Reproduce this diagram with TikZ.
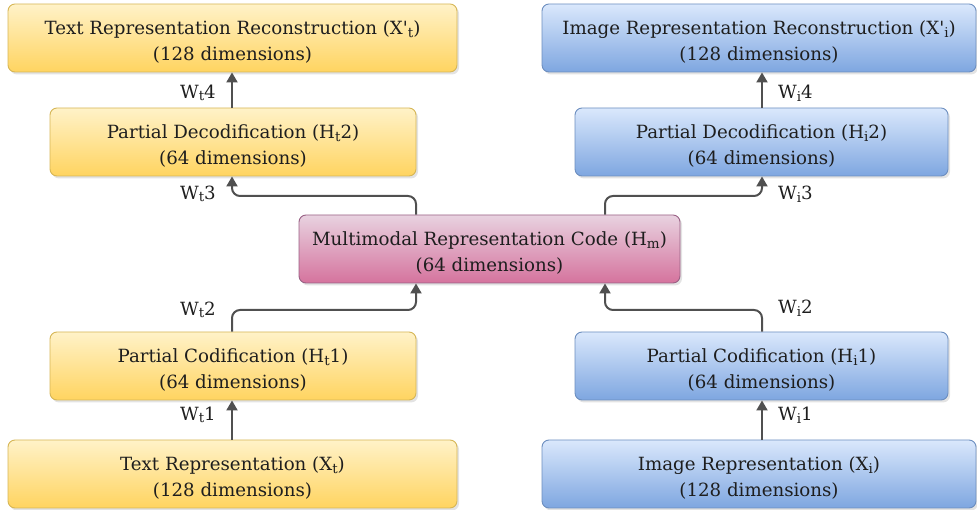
\documentclass[tikz,border=0pt]{standalone}
\usepackage{fontspec}
\setmainfont{DejaVu Serif}
\usetikzlibrary{arrows.meta,shadows,calc}

\definecolor{ytop}{RGB}{255,242,200}
\definecolor{ybot}{RGB}{255,212,96}
\definecolor{yline}{RGB}{214,182,86}
\definecolor{btop}{RGB}{218,232,252}
\definecolor{bbot}{RGB}{126,166,224}
\definecolor{bline}{RGB}{108,142,191}
\definecolor{ptop}{RGB}{232,210,224}
\definecolor{pbot}{RGB}{213,115,157}
\definecolor{pline}{RGB}{153,97,133}
\definecolor{wire}{RGB}{80,80,80}
\definecolor{ink}{RGB}{30,30,30}

% subscript in the running font, a little larger than \textsubscript
\newcommand{\lowidx}[1]{\raisebox{-0.28ex}{\fontsize{13.5}{14}\selectfont #1}}
% taller first line, so the two text lines sit a little lower in the box
\newcommand{\headstrut}{\rule{0pt}{22pt}}

\tikzset{
  box/.style={rounded corners=7pt, line width=0.9pt, align=center,
    inner sep=0pt, minimum height=68pt, text=ink,
    font=\fontsize{18.2}{26}\selectfont,
    drop shadow={shadow xshift=2pt, shadow yshift=-2.5pt, opacity=0.22}},
  textbox/.style={box, draw=yline, top color=ytop, bottom color=ybot},
  imgbox/.style={box, draw=bline, top color=btop, bottom color=bbot},
  codebox/.style={box, draw=pline, top color=ptop, bottom color=pbot},
  link/.style={draw=wire, line width=2pt, rounded corners=8pt,
    -{Triangle[length=10pt, width=11pt]}},
  wlabel/.style={font=\fontsize{18.2}{20}\selectfont, text=ink, inner sep=0pt}
}

\begin{document}
\begin{tikzpicture}[x=1pt, y=1pt]
\useasboundingbox (0,0) rectangle (977,510);

% text branch
\node[textbox, minimum width=449pt] (trec) at (232.5,472)
  {\headstrut Text Representation Reconstruction (X\textquotesingle\lowidx{t})\\(128 dimensions)};
\node[textbox, minimum width=366pt] (tdec) at (233,368)
  {\headstrut Partial Decodification (H\lowidx{t}2)\\(64 dimensions)};
\node[textbox, minimum width=366pt] (tcod) at (233,144)
  {\headstrut Partial Codification (H\lowidx{t}1)\\(64 dimensions)};
\node[textbox, minimum width=449pt] (tin) at (232.5,36)
  {\headstrut Text Representation (X\lowidx{t})\\(128 dimensions)};

% image branch
\node[imgbox, minimum width=434pt] (irec) at (759,472)
  {\headstrut Image Representation Reconstruction (X\textquotesingle\lowidx{i})\\(128 dimensions)};
\node[imgbox, minimum width=373pt] (idec) at (761.5,368)
  {\headstrut Partial Decodification (H\lowidx{i}2)\\(64 dimensions)};
\node[imgbox, minimum width=373pt] (icod) at (761.5,144)
  {\headstrut Partial Codification (H\lowidx{i}1)\\(64 dimensions)};
\node[imgbox, minimum width=434pt] (iin) at (759,36)
  {\headstrut Image Representation (X\lowidx{i})\\(128 dimensions)};

% shared code
\node[codebox, minimum width=381pt] (code) at (489.5,261)
  {\headstrut Multimodal Representation Code (H\lowidx{m})\\(64 dimensions)};

% attachment points on the shared code
\coordinate (cl) at (416,0);
\coordinate (cr) at (605,0);
\coordinate (ax) at (232,0);
\coordinate (bx) at (762,0);

% encoder
\draw[link] (ax |- tin.north) -- (ax |- tcod.south);
\draw[link] (bx |- iin.north) -- (bx |- icod.south);
\draw[link] (ax |- tcod.north) -- (232,200) -- (416,200) -- (cl |- code.south);
\draw[link] (bx |- icod.north) -- (762,200) -- (605,200) -- (cr |- code.south);

% decoder
\draw[link] (cl |- code.north) -- (416,314) -- (232,314) -- (ax |- tdec.south);
\draw[link] (cr |- code.north) -- (605,314) -- (762,314) -- (bx |- idec.south);
\draw[link] (ax |- tdec.north) -- (ax |- trec.south);
\draw[link] (bx |- idec.north) -- (bx |- irec.south);

% weight labels
\node[wlabel, anchor=east] (wt1) at (216,95) {W\lowidx{t}1};
\node[wlabel, anchor=east] (wt2) at (216,200) {W\lowidx{t}2};
\node[wlabel, anchor=east] (wt3) at (216,316) {W\lowidx{t}3};
\node[wlabel, anchor=east] (wt4) at (216,417) {W\lowidx{t}4};
\node[wlabel, anchor=west] (wi1) at (778,95) {W\lowidx{i}1};
\node[wlabel, anchor=west] (wi2) at (778,202) {W\lowidx{i}2};
\node[wlabel, anchor=west] (wi3) at (778,316) {W\lowidx{i}3};
\node[wlabel, anchor=west] (wi4) at (778,417) {W\lowidx{i}4};
\end{tikzpicture}
\end{document}
